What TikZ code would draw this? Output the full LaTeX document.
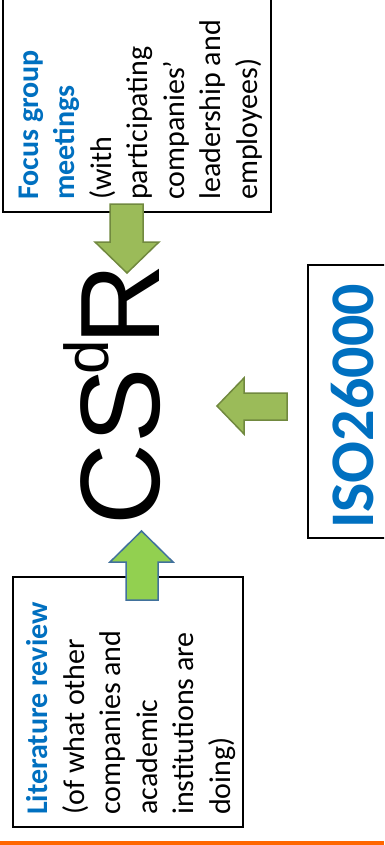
\documentclass[tikz,border=0pt]{standalone}
\usepackage{fontspec}
\setmainfont{Carlito}
\newfontfamily\arialfont{Liberation Sans}
\definecolor{fgblue}{RGB}{0,112,192}
\definecolor{olivefill}{RGB}{155,187,89}
\definecolor{olivedraw}{RGB}{113,137,63}
\definecolor{limefill}{RGB}{146,208,80}
\definecolor{limedraw}{RGB}{65,113,156}
\definecolor{orangeline}{RGB}{255,102,0}
\begin{document}
\begin{tikzpicture}[x=1pt,y=-1pt,
  infobox/.style={draw=black,line width=2pt},
  bodytext/.style={rotate=90,anchor=north west,align=left,inner sep=0pt,
    font=\fontsize{30}{36.5}\selectfont},
  olivearrow/.style={fill=olivefill,draw=olivedraw,line width=1.5pt,line join=miter},
  limearrow/.style={fill=limefill,draw=limedraw,line width=1.5pt,line join=miter}]
\clip (0,0) rectangle (384,845);
\fill[white] (0,0) rectangle (384,845);
% boxes
\draw[infobox] (3,-5) rectangle (271,212);
\draw[infobox] (13,577) rectangle (243,827);
\draw[infobox] (308,265) rectangle (395,538);
% texts
\node[bodytext] (focus) at (13,200) {\rule{0pt}{25pt}\textcolor{fgblue}{\textbf{Focus group}}\\
  \textcolor{fgblue}{\textbf{meetings}}\\(with\\participating\\companies’\\leadership and\\employees)};
\node[bodytext] (lit) at (22.5,815) {\rule{0pt}{25pt}\textcolor{fgblue}{\textbf{Literature review}}\\
  (of what other\\companies and\\academic\\institutions are\\doing)};
\node[rotate=90,anchor=base,inner sep=0pt,text=fgblue,font=\fontsize{62}{62}\selectfont\bfseries] (iso) at (373,406.5) {ISO26000};
\node[rotate=90,anchor=base west,inner sep=0pt,font=\arialfont\fontsize{113}{113}\selectfont] (csr) at (159,525.6)
  {CS\kern-6pt\raisebox{51pt}{\fontsize{62}{62}\selectfont d}\kern-6pt R};
% arrows
\draw[olivearrow] (110,204) -- (143,204) -- (143,242) -- (159,242) -- (127,273) -- (95,242) -- (110,242) -- cycle;
\draw[olivearrow] (287,393) -- (287,420) -- (244,420) -- (244,434) -- (217,406) -- (244,378) -- (244,393) -- cycle;
\draw[limearrow] (126,600) -- (158,600) -- (158,562) -- (173,562) -- (141.5,531) -- (110,562) -- (126,562) -- cycle;
% bottom rule
\fill[orangeline] (0,841) rectangle (384,845);
\end{tikzpicture}
\end{document}
